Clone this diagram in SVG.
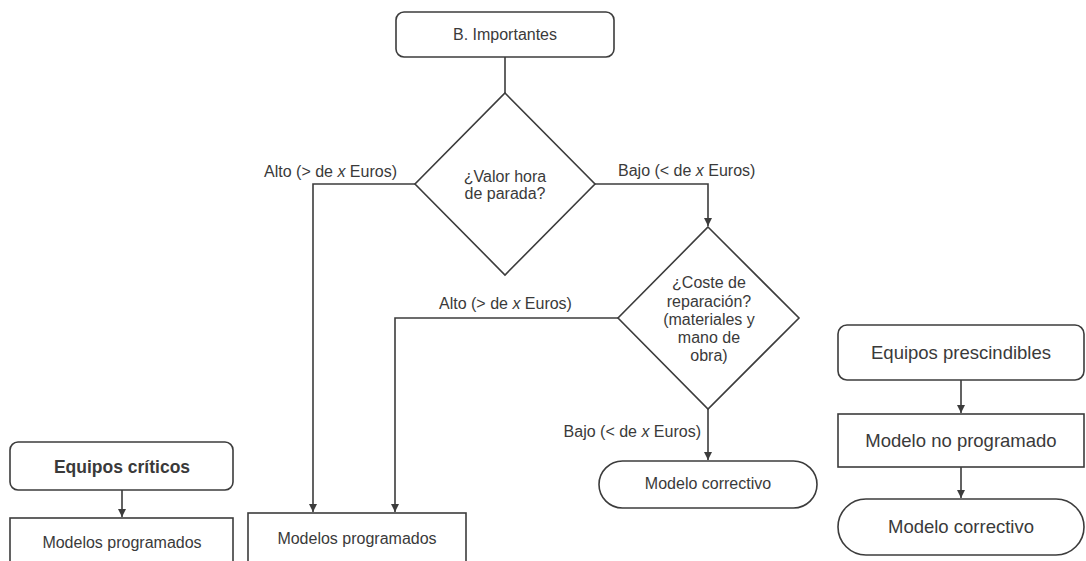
<svg xmlns="http://www.w3.org/2000/svg" width="1086" height="561" viewBox="0 0 1086 561">
  <style>
    .shape { fill: #ffffff; stroke: #3c3c3c; stroke-width: 1.6; }
    .wire { fill: none; stroke: #3c3c3c; stroke-width: 1.6; }
    text { font-family: "Liberation Sans", Arial, sans-serif; font-size: 16px; fill: #3a3a3a; }
    .c { text-anchor: middle; }
    .e { text-anchor: end; }
    .big { font-size: 18.5px; }
    .bold { font-weight: bold; font-size: 17.5px; }
    .it { font-style: italic; }
  </style>
  <defs>
    <marker id="arrow" markerWidth="8" markerHeight="10" refX="8" refY="5" orient="auto" markerUnits="userSpaceOnUse">
      <path d="M0,1 L8,5 L0,9 Z" fill="#3c3c3c"/>
    </marker>
  </defs>
  <rect width="1086" height="561" fill="#ffffff"/>

  <!-- connectors -->
  <g id="connectors">
    <path class="wire" d="M505,57 V93"/>
    <path class="wire" d="M415,184 H313 V512" marker-end="url(#arrow)"/>
    <path class="wire" d="M595,184 H708 V226" marker-end="url(#arrow)"/>
    <path class="wire" d="M618,318 H395 V512" marker-end="url(#arrow)"/>
    <path class="wire" d="M708,409 V460" marker-end="url(#arrow)"/>
    <path class="wire" d="M122,490 V517" marker-end="url(#arrow)"/>
    <path class="wire" d="M961,380 V413" marker-end="url(#arrow)"/>
    <path class="wire" d="M961,467 V498" marker-end="url(#arrow)"/>
  </g>

  <!-- connector labels -->
  <g id="labels">
    <text class="e" x="397" y="177">Alto (&gt; de <tspan class="it">x</tspan> Euros)</text>
    <text x="618" y="176">Bajo (&lt; de <tspan class="it">x</tspan> Euros)</text>
    <text x="439" y="309">Alto (&gt; de <tspan class="it">x</tspan> Euros)</text>
    <text class="e" x="701" y="437">Bajo (&lt; de <tspan class="it">x</tspan> Euros)</text>
  </g>

  <g id="b-importantes">
    <rect class="shape" x="396" y="12" width="218" height="45" rx="8"/>
    <text class="c" x="505" y="40">B. Importantes</text>
  </g>

  <g id="valor-hora">
    <polygon class="shape" points="505,93 595,184 505,275 415,184"/>
    <text class="c" x="505" y="182">¿Valor hora</text>
    <text class="c" x="505" y="199">de parada?</text>
  </g>

  <g id="coste-reparacion">
    <polygon class="shape" points="708,227 799,318 708,409 618,318"/>
    <text class="c" x="709" y="288">¿Coste de</text>
    <text class="c" x="709" y="307">reparación?</text>
    <text class="c" x="709" y="325">(materiales y</text>
    <text class="c" x="709" y="343">mano de</text>
    <text class="c" x="709" y="361">obra)</text>
  </g>

  <g id="modelos-programados-b">
    <rect class="shape" x="248" y="513" width="218" height="60"/>
    <text class="c" x="357" y="544">Modelos programados</text>
  </g>

  <g id="modelo-correctivo-b">
    <rect class="shape" x="599" y="461" width="218" height="47" rx="23.5"/>
    <text class="c" x="708" y="489">Modelo correctivo</text>
  </g>

  <g id="equipos-criticos">
    <rect class="shape" x="10" y="442" width="223" height="48" rx="8"/>
    <text class="c bold" x="122" y="473">Equipos críticos</text>
  </g>

  <g id="modelos-programados-a">
    <rect class="shape" x="10" y="518" width="223" height="60"/>
    <text class="c" x="122" y="548">Modelos programados</text>
  </g>

  <g id="equipos-prescindibles">
    <rect class="shape" x="838" y="325" width="246" height="55" rx="9"/>
    <text class="c big" x="961" y="359">Equipos prescindibles</text>
  </g>

  <g id="modelo-no-programado">
    <rect class="shape" x="838" y="414" width="246" height="53"/>
    <text class="c big" x="961" y="447">Modelo no programado</text>
  </g>

  <g id="modelo-correctivo-c">
    <rect class="shape" x="838" y="499" width="246" height="56" rx="28"/>
    <text class="c big" x="961" y="533">Modelo correctivo</text>
  </g>
</svg>
